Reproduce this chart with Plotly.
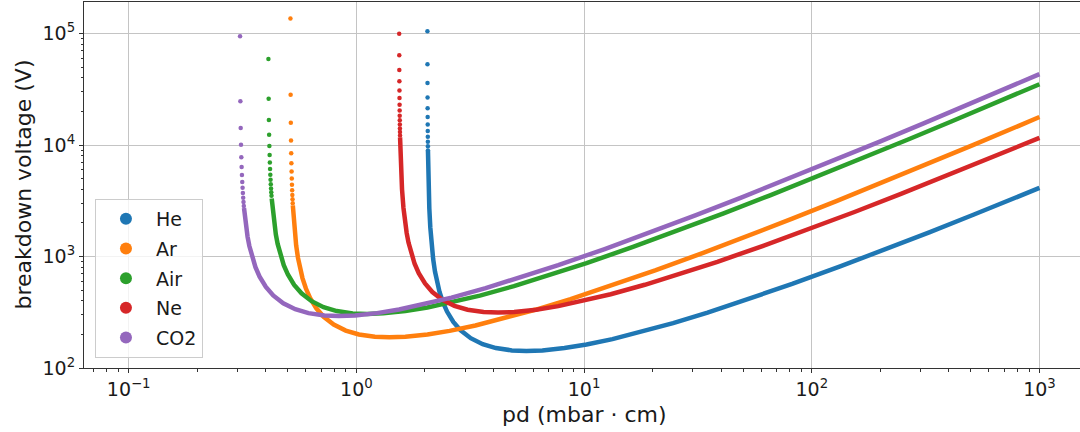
import plotly.graph_objects as go

# ---------------- data ----------------
gases = ["He", "Ar", "Air", "Ne", "CO2"]
colors = ["#1f77b4", "#ff7f0e", "#2ca02c", "#d62728", "#9467bd"]

# sparse dots close to the vertical asymptote
he_tail_pd = [2.05102, 2.05202, 2.05302, 2.05402, 2.05502, 2.05602, 2.05702, 2.05802, 2.05902, 2.06002, 2.06102, 2.06202]
he_tail_v = [105100, 53070, 35970, 26670, 21350, 17810, 15270, 13370, 11880, 10700, 9730, 8920]
ar_tail_pd = [0.51326, 0.51426, 0.51526, 0.51626, 0.51726, 0.51826, 0.51926, 0.52026, 0.52126, 0.52226, 0.52326, 0.52426, 0.52526]
ar_tail_v = [136700, 28290, 15820, 11000, 8442, 6857, 5778, 4997, 4404, 3940, 3566, 3260, 3004]
air_tail_pd = [0.41078, 0.41178, 0.41278, 0.41378, 0.41478, 0.41578, 0.41678, 0.41778, 0.41878, 0.41978, 0.42078, 0.42178, 0.42278, 0.42378]
air_tail_v = [59220, 26050, 16740, 12360, 9805, 8138, 6962, 6089, 5414, 4879, 4442, 4079, 3770, 3510]
ne_tail_pd = [1.54179, 1.54279, 1.54379, 1.54479, 1.54579, 1.54679, 1.54779, 1.54879, 1.54979, 1.55079, 1.55179, 1.55279, 1.55379, 1.55479]
ne_tail_v = [99560, 63930, 47110, 37310, 30900, 26370, 23010, 20410, 18340, 16660, 15260, 14080, 13070, 12200]
co2_tail_pd = [0.30835, 0.30935, 0.31035, 0.31135, 0.31235, 0.31335, 0.31435, 0.31535, 0.31635, 0.31735, 0.31835, 0.31935, 0.32035]
co2_tail_v = [94790, 24690, 14250, 10050, 7775, 6353, 5378, 4667, 4128, 3704, 3362, 3079, 2842]

# dense (continuous-looking) part of each curve
he_pd = [2.0621, 2.0654, 2.0705, 2.0808, 2.091, 2.1115, 2.1423, 2.173, 2.214, 2.255, 2.3165, 2.3985, 2.501, 2.665, 2.87,
         3.1775, 3.5875, 4.1, 4.8175, 5.576, 6.56, 8.2, 10.25, 13.325, 17.425, 24.6, 34.85, 51.25, 82, 133.25, 205, 328,
         512.5, 820, 1000]
he_v = [8943, 7052, 5308, 3565, 2694, 1823, 1242, 951, 734, 603.5, 483.6, 389.7, 320.9, 259.1, 217.6, 185.0, 163.5,
        150.9, 143.8, 142.2, 143.9, 150.9, 162.5, 181.6, 207.7, 252.6, 313.8, 406.2, 567.1, 814.4, 1135.7, 1648.8, 2368,
        3491.5, 4122]
ar_pd = [0.52583, 0.5284, 0.5361, 0.5438, 0.554, 0.5643, 0.5797, 0.6002, 0.6259, 0.6669, 0.7182, 0.7952, 0.8978, 1.026,
         1.2056, 1.3954, 1.6416, 2.052, 2.565, 3.3345, 4.3605, 6.156, 8.721, 12.825, 20.52, 33.345, 51.3, 82.08, 128.25,
         205.2, 333.45, 513, 820.8, 1000]
ar_v = [2875, 2414, 1644, 1260, 971.7, 799.3, 640.4, 516.1, 424.9, 343.2, 288.2, 245.0, 216.6, 199.8, 190.5, 188.3, 190.5,
        199.8, 215.2, 240.5, 275.1, 334.5, 415.6, 537.9, 751.0, 1078.4, 1504, 2183.5, 3136, 4624, 6951, 10027, 15020, 17823]
air_pd = [0.42468, 0.42845, 0.4346, 0.4428, 0.451, 0.4633, 0.4797, 0.5002, 0.533, 0.574, 0.6355, 0.7175, 0.82, 0.9635,
          1.1152, 1.312, 1.64, 2.05, 2.665, 3.485, 4.92, 6.97, 10.25, 16.4, 26.65, 41, 65.6, 102.5, 164, 266.5, 410, 656,
          1000]
air_v = [3308, 2667, 2043, 1576, 1296, 1038.7, 837.2, 689.2, 556.6, 467.5, 397.3, 351.3, 324.1, 308.9, 305.3, 309.1,
         324.1, 349.0, 390.2, 446.2, 542.5, 674.0, 872.6, 1218.1, 1749.3, 2439.5, 3541.6, 5086, 7500, 11274, 16263, 24363,
         35130]
ne_pd = [1.5554, 1.5593, 1.5631, 1.5708, 1.5862, 1.6093, 1.6324, 1.6632, 1.694, 1.7402, 1.8018, 1.8788, 2.002, 2.156,
         2.387, 2.695, 3.08, 3.619, 4.1888, 4.928, 6.16, 7.7, 10.01, 13.09, 18.48, 26.18, 38.5, 61.6, 100.1, 154, 246.4,
         385, 616, 1000]
ne_v = [11720, 9413, 7874, 5949, 4025, 2742, 2101, 1620, 1333, 1068, 860.7, 708.6, 572.3, 480.6, 408.5, 361.2, 333.2,
        317.6, 313.9, 317.7, 333.2, 358.9, 401.1, 458.8, 557.7, 693, 897.1, 1252.4, 1798.5, 2508, 3641, 5229, 7711, 11581]
co2_pd = [0.32094, 0.32186, 0.32648, 0.33264, 0.3388, 0.34804, 0.36036, 0.37576, 0.4004, 0.4312, 0.4774, 0.539, 0.616,
          0.7238, 0.8378, 0.9856, 1.232, 1.54, 2.002, 2.618, 3.696, 5.236, 7.7, 12.32, 20.02, 30.8, 49.28, 77, 123.2,
          200.2, 308, 492.8, 770, 1000]
co2_v = [2727, 2556, 1958, 1510, 1242, 995.3, 802.2, 660.4, 533.4, 447.9, 380.8, 336.6, 310.6, 296.0, 292.6, 296.1,
         310.6, 334.5, 373.9, 427.6, 519.8, 645.9, 836.1, 1167.2, 1676.2, 2337.6, 3393.8, 4874, 7187, 10804, 15584, 23346,
         34397, 43228]

x_tick_vals = [0.1, 1, 10, 100, 1000]
x_tick_text = ["10<sup>\u22121</sup>", "10<sup>0</sup>", "10<sup>1</sup>", "10<sup>2</sup>", "10<sup>3</sup>"]
y_tick_vals = [100, 1000, 10000, 100000]
y_tick_text = ["10<sup>2</sup>", "10<sup>3</sup>", "10<sup>4</sup>", "10<sup>5</sup>"]
x_title = "pd (mbar \u00b7 cm)"
y_title = "breakdown voltage (V)"

curves = [
    (he_pd, he_v, he_tail_pd, he_tail_v),
    (ar_pd, ar_v, ar_tail_pd, ar_tail_v),
    (air_pd, air_v, air_tail_pd, air_tail_v),
    (ne_pd, ne_v, ne_tail_pd, ne_tail_v),
    (co2_pd, co2_v, co2_tail_pd, co2_tail_v),
]

# ---------------- figure ----------------
fig = go.Figure()
for name, color, (pd_, v_, tpd, tv) in zip(gases, colors, curves):
    fig.add_trace(go.Scatter(x=pd_, y=v_, mode="lines", line=dict(color=color, width=4.5),
                             legendgroup=name, showlegend=False, hoverinfo="skip"))
    fig.add_trace(go.Scatter(x=tpd, y=tv, mode="markers", marker=dict(color=color, size=4.5),
                             legendgroup=name, showlegend=False, hoverinfo="skip"))
    fig.add_trace(go.Scatter(x=[None], y=[None], mode="markers", name=name,
                             marker=dict(color=color, size=12), legendgroup=name, showlegend=True))

minor_x = [m * 10.0 ** e for e in range(-2, 4) for m in range(2, 10)]
minor_y = [m * 10.0 ** e for e in range(1, 6) for m in range(2, 10)]

axis_common = dict(
    showgrid=True, gridcolor="#c4c4c4", gridwidth=1,
    showline=True, linecolor="#333333", linewidth=1,
    ticks="outside", ticklen=4, tickcolor="#333333", tickwidth=1,
    tickfont=dict(size=19, color="#1a1a1a"),
    zeroline=False, automargin=False,
)

fig.update_xaxes(
    type="log", range=[-1.1963, 3.178], mirror=True,
    tickmode="array", tickvals=x_tick_vals, ticktext=x_tick_text,
    minor=dict(tickmode="array", tickvals=minor_x, ticks="outside", ticklen=2.5, tickcolor="#333333", showgrid=False),
    **axis_common,
)
fig.update_yaxes(
    type="log", range=[2, 5.283], mirror=False,
    tickmode="array", tickvals=y_tick_vals, ticktext=y_tick_text,
    minor=dict(tickmode="array", tickvals=minor_y, ticks="outside", ticklen=2.5, tickcolor="#333333", showgrid=False),
    **axis_common,
)

fig.add_annotation(text=x_title, xref="paper", yref="paper", x=0.503, y=-0.128,
                   xanchor="center", yanchor="middle", showarrow=False,
                   font=dict(size=22, color="#1a1a1a"))
fig.add_annotation(text=y_title, xref="paper", yref="paper", x=-0.0617, y=0.5, textangle=-90,
                   xanchor="center", yanchor="middle", showarrow=False,
                   font=dict(size=22, color="#1a1a1a"))

fig.update_layout(
    width=1080, height=432,
    margin=dict(l=84, r=0, t=2, b=64),
    paper_bgcolor="white", plot_bgcolor="white",
    font=dict(family="DejaVu Sans", color="#1a1a1a"),
    legend=dict(
        x=0.011, y=0.462, xanchor="left", yanchor="top",
        bgcolor="rgba(255,255,255,0.8)", bordercolor="#cccccc", borderwidth=1,
        font=dict(size=19), itemwidth=50, tracegroupgap=2,
    ),
)

fig.write_html("out.html", config={"displayModeBar": False},
               post_script="document.body.style.margin='0px';document.body.style.padding='0px';")
